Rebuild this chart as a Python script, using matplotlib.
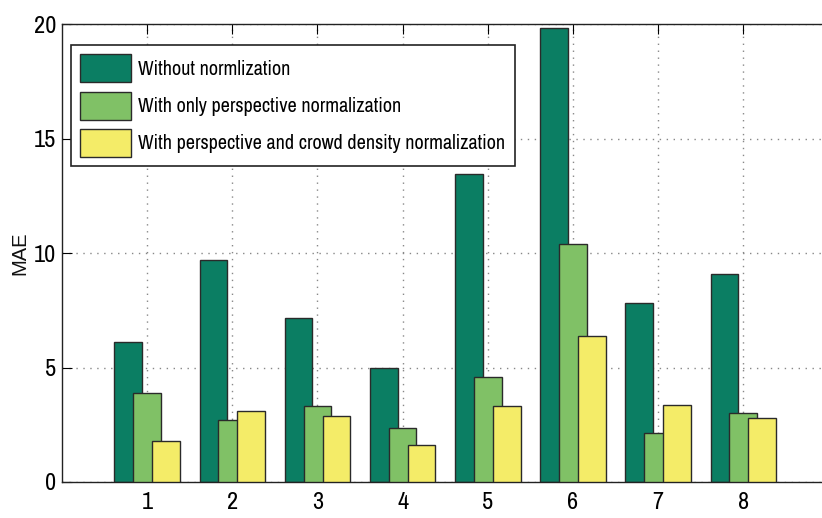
import matplotlib
matplotlib.use("Agg")
import matplotlib.pyplot as plt
from matplotlib import font_manager
import numpy as np

categories = [1, 2, 3, 4, 5, 6, 7, 8]
without_norm = [6.1, 9.7, 7.15, 5.0, 13.45, 19.85, 7.82, 9.1]
persp_only = [3.9, 2.7, 3.3, 2.35, 4.57, 10.4, 2.12, 3.03]
persp_density = [1.77, 3.12, 2.87, 1.6, 3.3, 6.37, 3.38, 2.78]
series_labels = ["Without normlization",
                 "With only perspective normalization",
                 "With perspective and crowd density normalization"]
yticks = [0, 5, 10, 15, 20]

colors = ["#0B7E63", "#80C166", "#F4EC68"]

available = set(f.name for f in font_manager.fontManager.ttflist)
prefs = ['Liberation Sans Narrow', 'Arial Narrow', 'Nimbus Sans Narrow', 'Archivo Narrow',
         'Roboto Condensed', 'PT Sans Narrow', 'Pragati Narrow', 'IBM Plex Sans Condensed',
         'Fira Sans Condensed', 'Encode Sans Condensed', 'Asap Condensed',
         'Sofia Sans Condensed', 'Barlow Semi Condensed', 'Liberation Sans']
narrow_name = next(p for p in prefs if p in available)
narrow = [narrow_name, 'DejaVu Sans']
regular = ['Liberation Sans', 'DejaVu Sans']

fig = plt.figure(figsize=(8.22, 5.18), dpi=100)
ax = fig.add_axes([0.0754, 0.0695, 0.9325, 0.884])

x = np.array(categories, dtype=float)
offsets = [-0.222, 0.0, 0.222]
width = 0.325
for i, (vals, lab) in enumerate(zip([without_norm, persp_only, persp_density], series_labels)):
    ax.bar(x + offsets[i], vals, width=width, color=colors[i], edgecolor="#2a2a2a",
           linewidth=1.0, label=lab, zorder=2 + i)

ax.set_xlim(0, 9)
ax.set_ylim(0, 20)
ax.set_xticks(categories)
ax.set_yticks(yticks)
ax.tick_params(direction='in', length=7, width=0.8, top=True, right=False, labelsize=17.5, pad=4)
ax.tick_params(axis='x', pad=7)
for t in ax.get_xticklabels() + ax.get_yticklabels():
    t.set_family(narrow)
ax.grid(True, linestyle=(0, (1, 4)), color="#888888", linewidth=1.0, zorder=0)
ax.set_axisbelow(True)
ax.set_ylabel("MAE", family=regular, fontsize=14.5, color="#111111")
ax.yaxis.set_label_coords(-0.042, 0.5)
for s in ax.spines.values():
    s.set_linewidth(1.0)
    s.set_color("#222222")

leg = ax.legend(loc='upper left', bbox_to_anchor=(0.0117, 0.954), prop={'family': narrow, 'size': 14.5},
                frameon=True, fancybox=False, edgecolor="#222222", framealpha=1,
                handlelength=2.55, handleheight=1.78, handletextpad=0.35, labelspacing=0.45,
                borderpad=0.45, borderaxespad=0)
leg.get_frame().set_linewidth(1.2)

fig.savefig("out.png", dpi=100)
